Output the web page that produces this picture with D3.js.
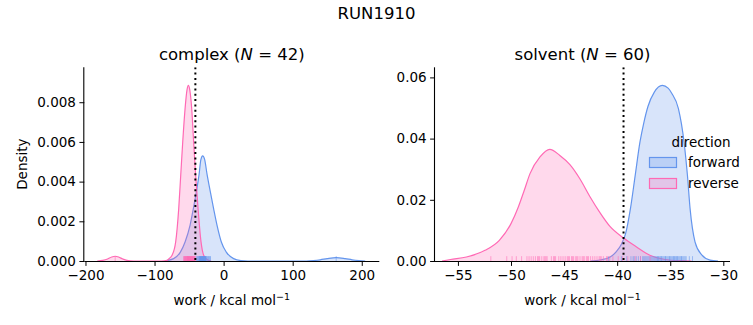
<!DOCTYPE html>
<html><head><meta charset="utf-8">
<script src="https://cdn.jsdelivr.net/npm/d3@7"></script>
<style>body{margin:0;background:#fff}svg{display:block;font-family:"DejaVu Sans",sans-serif}</style>
</head><body><svg id="c" width="753" height="325"></svg>
<script>
const suptitle = "RUN1910";
const directions = ["forward", "reverse"];
const colors = {forward: "#6495ED", reverse: "#FF69B4"};

// complex panel: KDE curves [work, density]
const complexForwardKde = [[-85,0],[-72.3,0.00012],[-62.6,0.00045],[-55.8,0.00096],[-48.6,0.0018],[-43.8,0.00264],[-39.5,0.00348],[-35.5,0.00437],[-33,0.0051],[-30.3,0.0053],[-27.5,0.00512],[-23.9,0.00435],[-19.2,0.00348],[-14.5,0.00264],[-9.5,0.0018],[-3.3,0.00096],[3.9,0.00045],[14.5,0.00012],[25,0.00002],[35,0],[120,0],[130,0.00002],[140,0.00006],[150,0.00012],[163,0.00017],[176,0.00012],[186,0.00006],[196,0.00002],[205,0]];
const complexReverseKde = [[-183,0],[-175,0.00003],[-168,0.0001],[-162,0.0002],[-157,0.00024],[-152,0.0002],[-146,0.0001],[-140,0.00003],[-130,0],[-90,0],[-82,0.00003],[-79.5,0.0001],[-74.6,0.00029],[-69.4,0.00096],[-65,0.00264],[-62.1,0.00432],[-59.2,0.006],[-55.8,0.00768],[-53,0.00862],[-51,0.00885],[-49,0.00862],[-46.2,0.00768],[-43.4,0.006],[-40.5,0.00432],[-37,0.00264],[-32.7,0.00096],[-28.9,0.00029],[-23,0.00005],[-18,0]];
const complexForwardRug = [163,-39,-38,-37,-36,-35.5,-35,-34.5,-34,-33.5,-33,-32.5,-32,-31.5,-31,-30.5,-30,-29.5,-29,-28.5,-28,-27.5,-27,-26.5,-26,-25.5,-25,-24,-23,-22,-21,-20,-19,-30.2,-29.2,-31.2,-32.2,-28.2,-27.2,-33.2,-26.2,-34.2];
const complexReverseRug = [-157,-58,-57,-56.5,-56,-55.5,-55,-54.5,-54,-53.5,-53,-52.5,-52,-51.5,-51,-50.5,-50,-49.5,-49,-48.5,-48,-47.5,-47,-46.5,-46,-45.5,-45,-44.5,-44,-43.5,-43,-42.5,-42,-41.5,-41,-52.2,-50.8,-49.2,-47.8,-46.2,-44.8,-51.6];
const complexDG = -40.9;

// solvent panel
const solventForwardKde = [[-42.5,0],[-41.5,0.0004],[-40.7,0.0012],[-40.1,0.003],[-39.6,0.0055],[-39.2,0.009],[-38.75,0.0171],[-38.3,0.028],[-37.85,0.0389],[-37.5,0.045],[-37.1,0.0505],[-36.5,0.0552],[-35.75,0.0574],[-35.2,0.0565],[-34.86,0.0548],[-34.23,0.0498],[-33.7,0.0389],[-33.38,0.028],[-33.13,0.0171],[-32.66,0.0062],[-32.03,0.002],[-31.25,0.0003],[-30.5,0]];
const solventReverseKde = [[-56.5,0],[-55.7,0.0005],[-54.2,0.0013],[-52.45,0.0035],[-51.1,0.00676],[-50,0.01222],[-49.31,0.01765],[-48.75,0.0231],[-48.21,0.02856],[-47.27,0.034],[-46.35,0.0365],[-45.4,0.0345],[-44.45,0.0315],[-43.5,0.0268],[-42.56,0.021],[-41.62,0.0158],[-40.68,0.0113],[-39.43,0.0076],[-38.17,0.0046],[-36.92,0.0019],[-35.5,0.0005],[-34,0.0001],[-33,0]];
const solventForwardRug = [-40.8,-39.6,-39.1,-38.7,-38.4,-38.2,-38.0,-37.8,-37.6,-37.5,-37.3,-37.2,-37.0,-36.9,-36.8,-36.6,-36.5,-36.4,-36.3,-36.2,-36.1,-36.0,-35.9,-35.8,-35.7,-35.6,-35.5,-35.4,-35.3,-35.2,-35.1,-35.0,-34.9,-34.8,-34.7,-34.6,-34.5,-34.4,-34.3,-34.2,-34.1,-34.0,-33.9,-33.8,-33.7,-33.6,-33.5,-33.2,-32.9,-37.4,-36.7,-35.85,-35.45,-35.05,-34.65,-36.15,-37.1,-34.35,-33.95,-38.5];
const solventReverseRug = [-51.9,-50.4,-49.9,-49.5,-49.0,-48.5,-48.1,-47.9,-47.7,-47.5,-47.3,-47.1,-46.9,-46.7,-46.6,-46.2,-46.0,-45.8,-45.5,-45.3,-44.9,-44.7,-44.5,-44.3,-44.1,-43.9,-43.7,-43.5,-43.3,-43.1,-42.9,-42.7,-42.5,-42.3,-42.1,-41.9,-41.7,-41.5,-41.3,-41.0,-40.7,-40.4,-39.9,-39.5,-39.0,-38.3,-37.8,-47.4,-46.8,-45.1,-44.6,-43.2,-42.8,-41.6,-48.3,-45.9,-44.2,-43.8,-40.9,-36.9];
const solventDG = -39.4;

const complexXTicks = [-200,-100,0,100,200];
const complexYTicks = [0,0.002,0.004,0.006,0.008];
const solventXTicks = [-55,-50,-45,-40,-35,-30];
const solventYTicks = [0,0.02,0.04,0.06];

const panels = [
  {name:"complex", n:42, left:84.3, right:379.3, xdom:[-201.7,225.4], ydom:[0,0.00976], xt:complexXTicks, yt:complexYTicks, yfmt:".3f",
   kde:{forward:complexForwardKde, reverse:complexReverseKde}, rug:{forward:complexForwardRug, reverse:complexReverseRug}, dg:complexDG, ylabel:true},
  {name:"solvent", n:60, left:435, right:730, xdom:[-57.16,-29.37], ydom:[0,0.0633], xt:solventXTicks, yt:solventYTicks, yfmt:".2f",
   kde:{forward:solventForwardKde, reverse:solventReverseKde}, rug:{forward:solventForwardRug, reverse:solventReverseRug}, dg:solventDG, legend:true}
];
const plotTop = 67.3, plotBottom = 261;
const svg = d3.select("#c");
const minus = s => s.replace(/-/g, "\u2212");

svg.append("text").attr("x", 376.5).attr("y", 19).attr("text-anchor","middle").attr("font-size","16.5px").attr("fill","#000").text(suptitle);

panels.forEach(p => {
  const x = d3.scaleLinear().domain(p.xdom).range([p.left, p.right]);
  const y = d3.scaleLinear().domain(p.ydom).range([plotBottom, plotTop]);
  const g = svg.append("g");
  const clip = "clip-" + p.name;
  svg.append("clipPath").attr("id", clip).append("rect").attr("x", p.left).attr("y", plotTop).attr("width", p.right-p.left).attr("height", plotBottom-plotTop);
  const plot = g.append("g").attr("clip-path", `url(#${clip})`);
  const area = d3.area().x(d => x(d[0])).y0(y(0)).y1(d => y(d[1])).curve(d3.curveMonotoneX);
  const line = d3.line().x(d => x(d[0])).y(d => y(d[1])).curve(d3.curveMonotoneX);
  directions.forEach(dir => {
    plot.append("path").attr("d", area(p.kde[dir])).attr("fill", colors[dir]).attr("fill-opacity", 0.25).attr("stroke","none");
    plot.append("path").attr("d", line(p.kde[dir])).attr("fill","none").attr("stroke", colors[dir]).attr("stroke-width", 1.2);
  });
  const rugH = 0.025 * (plotBottom - plotTop);
  directions.forEach(dir => {
    plot.selectAll(null).data(p.rug[dir]).enter().append("line")
      .attr("x1", d => x(d)).attr("x2", d => x(d)).attr("y1", plotBottom).attr("y2", plotBottom - rugH)
      .attr("stroke", colors[dir]).attr("stroke-opacity", 0.55).attr("stroke-width", 1);
  });
  plot.append("line").attr("x1", x(p.dg)).attr("x2", x(p.dg)).attr("y1", plotTop).attr("y2", plotBottom)
    .attr("stroke","#000").attr("stroke-width", 2).attr("stroke-dasharray","2,3.3");

  const xa = g.append("g").attr("transform", `translate(0,${plotBottom})`)
    .call(d3.axisBottom(x).tickValues(p.xt).tickFormat(d => minus(d3.format("d")(d))).tickSizeOuter(0).tickSize(4.9).tickPadding(3.5));
  xa.select(".domain").attr("d", `M${p.left},0.5H${p.right}`).attr("stroke-width", 1.1);
  const ya = g.append("g").attr("transform", `translate(${p.left},0)`)
    .call(d3.axisLeft(y).tickValues(p.yt).tickFormat(d => d3.format(p.yfmt)(d)).tickSizeOuter(0).tickSize(4.9).tickPadding(3.5));
  ya.select(".domain").attr("d", `M-0.5,${plotTop}V${plotBottom}`).attr("stroke-width", 1.1);
  [xa, ya].forEach(a => { a.selectAll("text").attr("font-size","13.5px").attr("font-family","DejaVu Sans").attr("fill","#000"); a.selectAll(".tick line").attr("stroke-width",1); });
  xa.selectAll("text").attr("dy","0.75em");

  const cx = (p.left + p.right)/2;
  const t = g.append("text").attr("x", cx).attr("y", 60).attr("text-anchor","middle").attr("font-size","16.5px").attr("fill","#000");
  t.append("tspan").text(p.name + " (");
  t.append("tspan").attr("font-style","italic").text("N");
  t.append("tspan").text(" = " + p.n + ")");

  const xl = g.append("text").attr("x", cx).attr("y", 305).attr("text-anchor","middle").attr("font-size","13.5px").attr("fill","#000");
  xl.append("tspan").text("work / kcal mol");
  xl.append("tspan").attr("dy", -5).attr("font-size","9.5px").text("\u22121");

  if (p.ylabel) {
    g.append("text").attr("transform", `translate(26.5,${(plotTop+plotBottom)/2}) rotate(-90)`).attr("text-anchor","middle")
      .attr("font-size","13.5px").attr("fill","#000").text("Density");
  }
  if (p.legend) {
    const lg = g.append("g");
    lg.append("text").attr("x", 701).attr("y", 147).attr("text-anchor","middle").attr("font-size","13.5px").attr("fill","#000").text("direction");
    directions.forEach((dir, i) => {
      const yy = 157.5 + i*21;
      lg.append("rect").attr("x", 649.5).attr("y", yy).attr("width", 27).attr("height", 10)
        .attr("fill", colors[dir]).attr("fill-opacity", 0.25).attr("stroke", colors[dir]).attr("stroke-width", 1.2);
      lg.append("text").attr("x", 688).attr("y", yy + 9.5).attr("font-size","13.5px").attr("fill","#000").text(dir);
    });
  }
});
</script></body></html>
